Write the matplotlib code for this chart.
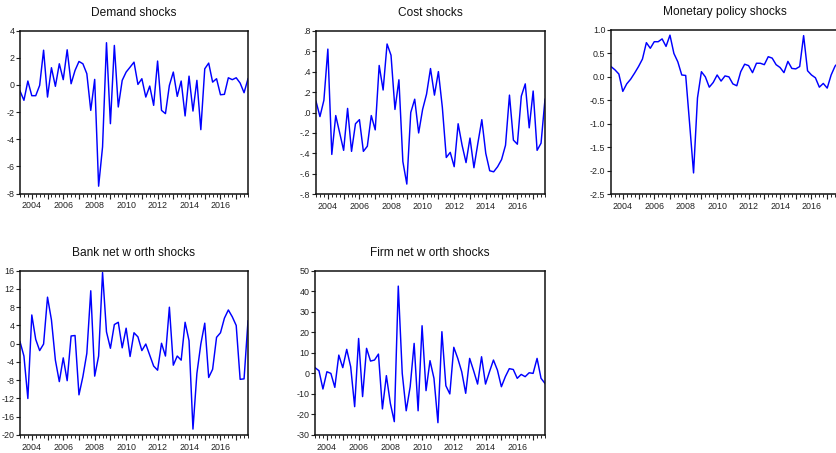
import numpy as np
import matplotlib
matplotlib.use("Agg")
import matplotlib.pyplot as plt
from matplotlib.ticker import FixedLocator, FixedFormatter

plt.rcParams['font.family'] = ['Liberation Sans', 'DejaVu Sans']

# quarterly sample, 2003Q2 - 2017Q4
first_year = 2003
first_quarter = 2
last_year = 2017

demand = [-0.45, -1.14, 0.28, -0.8, -0.8, -0.04, 2.55, -0.9, 1.26, -0.11,
          1.55, 0.38, 2.58, 0.08, 1.06, 1.72, 1.55, 0.82, -1.88, 0.4,
          -7.46, -4.57, 3.1, -2.86, 2.9, -1.63, 0.33, 0.94, 1.3, 1.67,
          0.03, 0.45, -0.9, -0.09, -1.51, 1.75, -1.88, -2.12, -0.04, 0.94,
          -0.85, 0.28, -2.29, 0.64, -1.93, 0.33, -3.3, 1.18, 1.6, 0.2,
          0.45, -0.73, -0.7, 0.52, 0.38, 0.52, 0.13, -0.58, 0.45]

cost = [0.11, -0.04, 0.12, 0.62, -0.41, -0.03, -0.20, -0.37, 0.04, -0.38,
        -0.11, -0.07, -0.38, -0.33, -0.03, -0.17, 0.46, 0.22, 0.67, 0.56,
        0.03, 0.32, -0.48, -0.70, 0.0, 0.13, -0.20, 0.03, 0.18, 0.43,
        0.17, 0.40, 0.05, -0.44, -0.39, -0.53, -0.11, -0.32, -0.49, -0.25,
        -0.54, -0.30, -0.07, -0.40, -0.57, -0.58, -0.53, -0.46, -0.32, 0.17,
        -0.27, -0.31, 0.16, 0.28, -0.15, 0.21, -0.37, -0.30, 0.13]

monetary = [0.22, 0.15, 0.06, -0.31, -0.15, -0.05, 0.08, 0.22, 0.38, 0.73,
            0.61, 0.75, 0.75, 0.81, 0.65, 0.89, 0.5, 0.32, 0.04, 0.03,
            -1.0, -2.05, -0.45, 0.11, 0.0, -0.22, -0.12, 0.04, -0.09, 0.02,
            0.0, -0.15, -0.19, 0.11, 0.27, 0.24, 0.09, 0.29, 0.29, 0.26,
            0.43, 0.4, 0.26, 0.2, 0.09, 0.33, 0.18, 0.17, 0.22, 0.88,
            0.13, 0.04, -0.02, -0.22, -0.14, -0.24, 0.04, 0.23, 0.32]

bank = [0.44, -2.7, -12.0, 6.3, 0.95, -1.5, -0.07, 10.2, 5.2, -3.6,
        -8.3, -3.1, -8.1, 1.7, 1.8, -11.2, -7.2, -2.1, 11.6, -7.1,
        -2.7, 15.6, 2.6, -1.0, 4.2, 4.7, -0.9, 3.4, -2.8, 2.4,
        1.5, -1.5, -0.07, -2.5, -4.9, -5.8, 0.1, -2.7, 8.0, -4.7,
        -2.7, -3.6, 4.7, 0.66, -18.7, -6.5, -0.07, 4.5, -7.4, -5.6,
        1.4, 2.4, 5.6, 7.4, 5.9, 4.0, -7.8, -7.7, 5.0]

firm = [2.8, 1.3, -7.6, 0.8, 0.0, -6.8, 8.9, 2.8, 11.7, 3.2,
        -16.2, 17.0, -11.3, 12.2, 6.0, 6.5, 9.4, -17.3, -1.1, -14.6,
        -23.5, 42.5, 0.0, -18.2, -6.5, 14.6, -18.2, 23.2, -8.4, 6.2,
        -2.4, -24.0, 20.3, -6.0, -10.0, 12.7, 7.3, 0.8, -9.7, 7.3,
        1.3, -5.2, 8.1, -5.2, 0.8, 6.5, 1.6, -6.5, -1.6, 2.3,
        1.9, -2.4, -0.5, -1.6, 0.3, 0.0, 7.3, -2.4, -4.9]

titles = ["Demand shocks", "Cost shocks", "Monetary policy shocks",
          "Bank net w orth shocks", "Firm net w orth shocks"]

y_ticks = [[-8, -6, -4, -2, 0, 2, 4],
           [-0.8, -0.6, -0.4, -0.2, 0.0, 0.2, 0.4, 0.6, 0.8],
           [-2.5, -2.0, -1.5, -1.0, -0.5, 0.0, 0.5, 1.0],
           [-20, -16, -12, -8, -4, 0, 4, 8, 12, 16],
           [-30, -20, -10, 0, 10, 20, 30, 40, 50]]


def int_label(v):
    return f"{v:.0f}"


def bare_decimal(v):
    # EViews style: ".8", "-.2", ".0"
    s = f"{v:.1f}"
    return s.replace("0.", ".", 1)


def one_decimal(v):
    return f"{v:.1f}"


y_fmt = [int_label, bare_decimal, one_decimal, int_label, int_label]

# axes boxes in pixels: left, top, right, bottom
W, H = 836, 453
boxes = [(20, 30.5, 248, 193.5),
         (316, 30.7, 545, 194.3),
         (611, 30.0, 839, 194.0),
         (20, 270.7, 248, 435),
         (315, 270.7, 545, 435)]

series = [demand, cost, monetary, bank, firm]

n = len(demand)
x = np.arange(n)
years = np.arange(first_year + 1, last_year + 1)
year_pos = (years - first_year) * 4 - (first_quarter - 1)
year_lab = [str(y) if y % 2 == 0 else "" for y in years]

fig = plt.figure(figsize=(W / 100, H / 100), dpi=100)

for data, title, ticks, fmt, (l, t, r, b) in zip(series, titles, y_ticks, y_fmt, boxes):
    ax = fig.add_axes([l / W, 1 - b / H, (r - l) / W, (b - t) / H])
    ax.plot(x, data, color="#0000ff", lw=1.05)
    ax.set_xlim(0, n - 1)
    ax.set_ylim(ticks[0], ticks[-1])

    ax.yaxis.set_major_locator(FixedLocator(ticks))
    ax.yaxis.set_major_formatter(FixedFormatter([fmt(v) for v in ticks]))
    ax.xaxis.set_major_locator(FixedLocator(year_pos))
    ax.xaxis.set_major_formatter(FixedFormatter(year_lab))
    ax.xaxis.set_minor_locator(FixedLocator(x))

    ax.tick_params(axis="y", direction="out", length=3, width=0.8, pad=1,
                   labelsize=6.4, colors="#222222")
    ax.tick_params(axis="x", which="major", direction="out", length=3.5,
                   width=0.8, pad=2, labelsize=6.4, colors="#222222")
    ax.tick_params(axis="x", which="minor", direction="out", length=2, width=0.6)
    for s in ax.spines.values():
        s.set_linewidth(1.1)
        s.set_color("#111111")
    ax.set_title(title, fontsize=8.6, pad=10.5, color="#111111")

fig.savefig("out.png", dpi=100)
